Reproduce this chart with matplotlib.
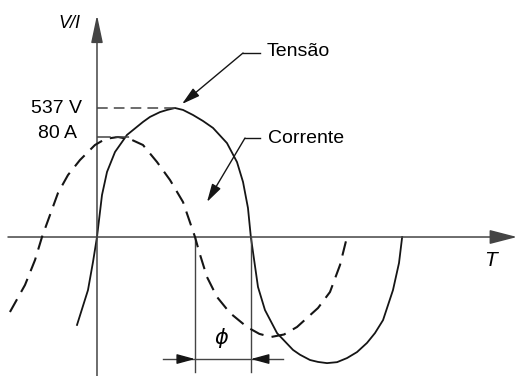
import matplotlib.pyplot as plt

plt.rcParams['font.family'] = ['Liberation Sans', 'DejaVu Sans']

# ângulo (graus elétricos) e tensão (V) lidos ao longo da curva
v_deg = [-23.5, -10.6, -4.7, 0, 5.9, 11.8, 21.2, 35.3, 54.1, 62.4, 74.1,
         82.4, 91.8, 101.2, 112.9, 124.7, 136.5, 152.9, 164.7, 171.8, 177.6,
         181, 189.4, 197.6, 211.8, 230.6, 238.8, 250.6, 260, 270.6, 282.4,
         294.1, 305.9, 317.6, 327, 336.5, 348.2, 355.3, 359]
v_volts = [-366, -221, -104, 0, 175, 271, 354, 425, 479, 500, 520,
           529, 537, 529, 508, 483, 454, 391, 312, 229, 121,
           0, -208, -304, -400, -470, -490, -512, -520, -525, -521,
           -504, -479, -441, -400, -346, -221, -108, 0]

# corrente (A), atrasada em relação à tensão
i_deg = [-102.4, -84.7, -72.9, -64.7, -55.3, -45.9, -34.1, -20, -2.4, 10,
         24.7, 40, 54.1, 70.6, 85.9, 101.2, 115.3, 120.6, 129.4, 141.2,
         156.5, 176.5, 191, 204.7, 220, 235.3, 260, 274.1, 285.9, 294.1]
i_amps = [-60, -38.4, -18.4, 0, 17.6, 35.2, 49.6, 61.6, 73.6, 78.5,
          80, 78, 73.6, 60, 45.6, 28, 0, -12.8, -32, -48,
          -60.8, -72, -77.5, -80, -78, -72, -56.8, -44, -22.4, 0]

v_peak = max(v_volts)
i_peak = max(i_amps)
phi_start = 115.3   # passagem da corrente por zero
phi_end = 181       # passagem da tensão por zero

curve_col = '#151515'
axis_col = '#444444'

fig = plt.figure(figsize=(5.17, 3.76), dpi=100)
ax = fig.add_axes([0, 0, 1, 1])
ax.set_xlim(-114.1, 494.1)
ax.set_ylim(-578.6, 986.6)
ax.axis('off')
ax2 = ax.twinx()
ax2.set_ylim(-111.2, 189.6)
ax2.axis('off')

# eixos com setas
ax.annotate('', xy=(494.1, 0), xytext=(-104.7, 0),
            arrowprops=dict(arrowstyle='-|>,head_length=0.85,head_width=0.22',
                            mutation_scale=20, lw=1.1, color=axis_col,
                            shrinkA=0, shrinkB=0))
ax.annotate('', xy=(0, 924), xytext=(0, -578.6),
            arrowprops=dict(arrowstyle='-|>,head_length=0.85,head_width=0.18',
                            mutation_scale=20, lw=1.1, color=axis_col,
                            shrinkA=0, shrinkB=0))

# curvas
ax.plot(v_deg, v_volts, color=curve_col, lw=1.3, solid_joinstyle='round')
ax2.plot(i_deg, i_amps, color=curve_col, lw=1.5, linestyle=(0, (7, 4)))

# linhas de referência dos picos
ax.plot([0, v_deg[v_volts.index(v_peak)]], [v_peak, v_peak],
        color=axis_col, lw=1.1, linestyle=(0, (7, 4)))
ax2.plot([0, 41], [i_peak, i_peak], color=axis_col, lw=1.1,
         linestyle=(0, (9, 3)))

ax.text(-17.6, v_peak, f'{v_peak} V', ha='right', va='center', fontsize=14)
ax2.text(-23.5, i_peak + 2.4, f'{i_peak:g} A', ha='right', va='center',
         fontsize=14)
ax.text(-32.9, 890, 'V/I', ha='center', va='center', fontsize=13,
        style='italic')
ax.text(463.5, -96, 'T', ha='center', va='center', fontsize=15,
        style='italic')

# indicações Tensão / Corrente
lead = dict(arrowstyle='-|>,head_length=1.1,head_width=0.3',
            mutation_scale=10, lw=1.0, color=curve_col,
            shrinkA=0, shrinkB=0)
ax.annotate('', xy=(100, 553.7), xytext=(171.8, 766), arrowprops=lead)
ax.plot([171.8, 191.8], [766, 766], color=curve_col, lw=1.0)
ax.text(200, 774, 'Tensão', ha='left', va='center', fontsize=14)

ax.annotate('', xy=(129.4, 145.7), xytext=(174.1, 412), arrowprops=lead)
ax.plot([174.1, 191.8], [412, 412], color=curve_col, lw=1.0)
ax.text(201.2, 412, 'Corrente', ha='left', va='center', fontsize=14)

# defasagem phi
for xv in (phi_start, phi_end):
    ax.plot([xv, xv], [0, -562], color=axis_col, lw=1.0)
ax.plot([77.6, 218.8], [-508, -508], color=axis_col, lw=1.0)
ax.annotate('', xy=(phi_start, -508), xytext=(97.6, -508), arrowprops=lead)
ax.annotate('', xy=(phi_end, -508), xytext=(201, -508), arrowprops=lead)
ax.text(147, -420, r'$\phi$', ha='center', va='center', fontsize=15)

fig.savefig('out.png', dpi=100)
